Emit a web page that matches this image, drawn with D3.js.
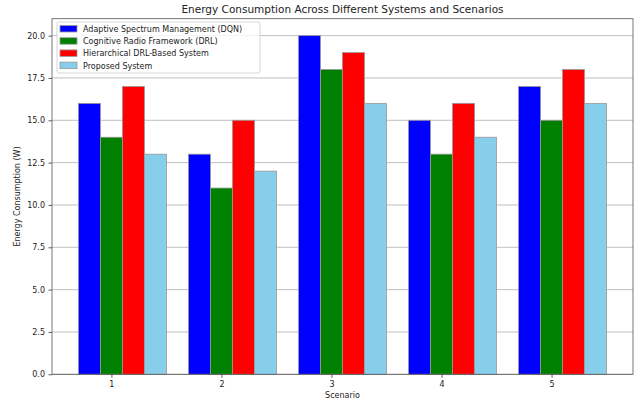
<!DOCTYPE html>
<html><head><meta charset="utf-8">
<script src="https://cdn.jsdelivr.net/npm/d3@7"></script>
<style>body{margin:0;background:#fff}svg{font-family:"DejaVu Sans",sans-serif}</style>
</head><body><svg id="c" width="638" height="403"></svg>
<script>
const scenarios = [1, 2, 3, 4, 5];
const seriesNames = ["Adaptive Spectrum Management (DQN)", "Cognitive Radio Framework (DRL)", "Hierarchical DRL-Based System", "Proposed System"];
const dqn = [16, 13, 20, 15, 17];
const drl = [14, 11, 18, 13, 15];
const hier = [17, 15, 19, 16, 18];
const proposed = [13, 12, 16, 14, 16];
const yTicks = [0, 2.5, 5, 7.5, 10, 12.5, 15, 17.5, 20];
const colors = ["#0000ff", "#008000", "#ff0000", "#87ceeb"];
const series = [dqn, drl, hier, proposed];

const svg = d3.select("#c");
const L = 52, R = 633, T = 18.7, B = 374.3;
const x = d3.scaleLinear().domain([0.46, 5.74]).range([L, R]);
const y = d3.scaleLinear().domain([0, 21]).range([B, T]);
const bw = 0.2;

// grid
svg.append("g").selectAll("line").data(yTicks).join("line")
  .attr("x1", L).attr("x2", R).attr("y1", d => y(d)).attr("y2", d => y(d))
  .attr("stroke", "#b0b0b0").attr("stroke-width", 0.8);

// bars
series.forEach((s, i) => {
  svg.append("g").selectAll("rect").data(s).join("rect")
    .attr("x", (d, j) => x(scenarios[j] - 0.3 + i * bw))
    .attr("width", x(bw) - x(0))
    .attr("y", d => y(d))
    .attr("height", d => y(0) - y(d))
    .attr("fill", colors[i]).attr("stroke", "#999").attr("stroke-width", 0.8);
});

// axes
const yAxis = d3.axisLeft(y).tickValues(yTicks).tickFormat(d3.format(".1f")).tickSize(3.5).tickPadding(3.5);
const gy = svg.append("g").attr("transform", `translate(${L},0)`).call(yAxis);
const xAxis = d3.axisBottom(x).tickValues(scenarios).tickFormat(d3.format("d")).tickSize(3.5).tickPadding(3.5);
const gx = svg.append("g").attr("transform", `translate(0,${B})`).call(xAxis);
[gx, gy].forEach(g => {
  g.select(".domain").remove();
  g.selectAll("text").attr("font-size", 8).attr("fill", "#222").attr("font-family", "DejaVu Sans");
  g.selectAll("line").attr("stroke", "#333").attr("stroke-width", 0.8);
});
svg.append("rect").attr("x", L).attr("y", T).attr("width", R - L).attr("height", B - T)
  .attr("fill", "none").attr("stroke", "#555").attr("stroke-width", 0.8);

// labels
svg.append("text").attr("x", (L + R) / 2).attr("y", 13).attr("text-anchor", "middle")
  .attr("font-size", 10.5).attr("fill", "#222").text("Energy Consumption Across Different Systems and Scenarios");
svg.append("text").attr("x", (L + R) / 2).attr("y", 398).attr("text-anchor", "middle")
  .attr("font-size", 8).attr("fill", "#222").text("Scenario");
svg.append("text").attr("transform", `translate(20,${(T + B) / 2}) rotate(-90)`).attr("text-anchor", "middle")
  .attr("font-size", 8).attr("fill", "#222").text("Energy Consumption (W)");

// legend
const lg = svg.append("g");
lg.append("rect").attr("x", 57).attr("y", 22).attr("width", 203).attr("height", 51)
  .attr("fill", "#fff").attr("fill-opacity", 0.8).attr("stroke", "#ccc").attr("stroke-width", 0.8).attr("rx", 2);
seriesNames.forEach((n, i) => {
  const yy = 29 + i * 12.2;
  lg.append("rect").attr("x", 60).attr("y", yy - 3.5).attr("width", 17).attr("height", 6.5)
    .attr("fill", colors[i]).attr("stroke", "#999").attr("stroke-width", 0.8);
  lg.append("text").attr("x", 83).attr("y", yy + 3).attr("font-size", 8).attr("fill", "#222").text(n);
});
</script></body></html>
